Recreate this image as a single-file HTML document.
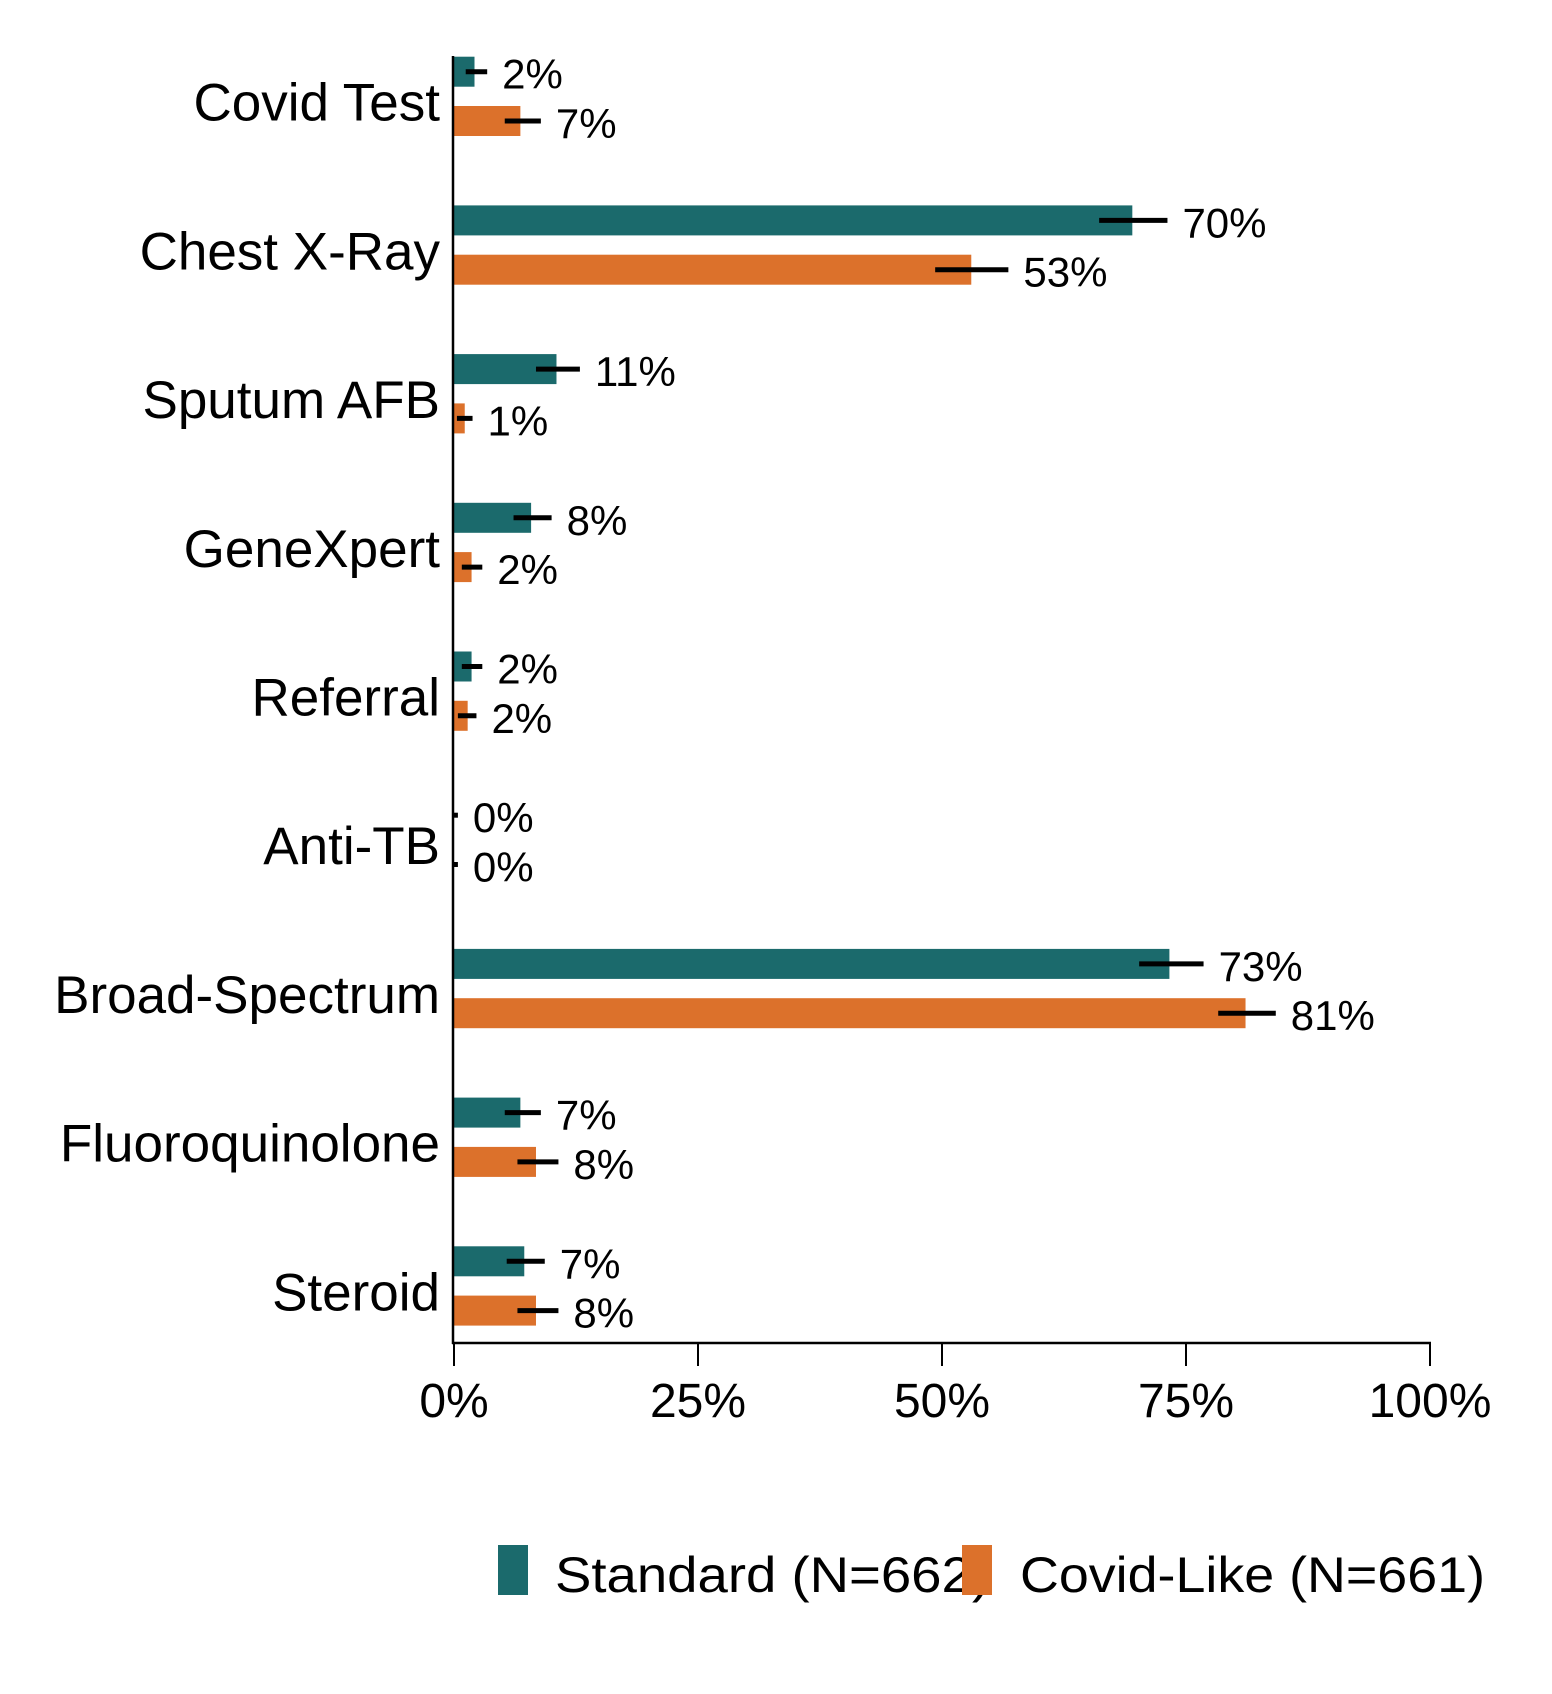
<!DOCTYPE html>
<html><head><meta charset="utf-8"><style>
html,body{margin:0;padding:0;background:#fff;}
svg{display:block;font-family:"Liberation Sans",Arial,sans-serif;}
</style></head><body>
<svg id="chart" width="1552" height="1694" viewBox="0 0 1552 1694"></svg>
<script>
const categories=["Covid Test","Chest X-Ray","Sputum AFB","GeneXpert","Referral","Anti-TB","Broad-Spectrum","Fluoroquinolone","Steroid"];
const standardValues=[2.1,69.5,10.5,7.9,1.8,0,73.3,6.8,7.2];
const standardLow=[1.2,66.1,8.4,6.1,0.8,0,70.2,5.2,5.4];
const standardHigh=[3.4,73.1,12.9,10.0,2.9,0.4,76.8,8.9,9.3];
const standardLabels=["2%","70%","11%","8%","2%","0%","73%","7%","7%"];
const covidValues=[6.8,53,1.1,1.8,1.4,0,81.1,8.4,8.4];
const covidLow=[5.2,49.3,0.3,0.8,0.4,0,78.3,6.5,6.5];
const covidHigh=[8.9,56.8,1.9,2.9,2.3,0.4,84.2,10.7,10.7];
const covidLabels=["7%","53%","1%","2%","2%","0%","81%","8%","8%"];
const ticks=[0,25,50,75,100];
const tickLabels=["0%","25%","50%","75%","100%"];

const NS="http://www.w3.org/2000/svg";
const svg=document.getElementById('chart');
const X0=454,X1=1430;
const x=v=>X0+(X1-X0)*v/100;
const step=148.7, barH=30;
const yTeal=i=>56.7+i*step;
const yOrange=i=>106+i*step;
function mk(tag,attrs,parent){const e=document.createElementNS(NS,tag);for(const k in attrs)e.setAttribute(k,attrs[k]);(parent||svg).appendChild(e);return e;}

function series(vals,lo,hi,labels,yf,color,key){
  vals.forEach((v,i)=>{
    const y=yf(i);
    const r=mk('rect',{x:X0,y:y,width:Math.max(0,x(v)-X0),height:barH,fill:color});
    
    
    const l=mk('line',{x1:x(lo[i]),x2:x(hi[i]),y1:y+barH/2,y2:y+barH/2,stroke:'#000','stroke-width':5});
    
    
    const t=mk('text',{x:x(hi[i])+15,y:y+barH/2+17,'font-size':42,fill:'#000'});
    t.textContent=labels[i];
    
    
  });
}
series(standardValues,standardLow,standardHigh,standardLabels,yTeal,'#1b6a6c','standard');
series(covidValues,covidLow,covidHigh,covidLabels,yOrange,'#dc712b','covid-like');

categories.forEach((c,i)=>{
  const t=mk('text',{x:440,y:yTeal(i)+64,'font-size':53,'text-anchor':'end',fill:'#000'});
  t.textContent=c;
  
  
});

const ya=mk('line',{x1:453,x2:453,y1:56,y2:1344,stroke:'#000','stroke-width':2.5});


const xa=mk('line',{x1:452,x2:X1+1,y1:1343,y2:1343,stroke:'#000','stroke-width':2.5});


ticks.forEach((tv,i)=>{
  const l=mk('line',{x1:x(tv),x2:x(tv),y1:1343,y2:1366,stroke:'#000','stroke-width':2});
  
  
  const t=mk('text',{x:x(tv),y:1417,'font-size':48,'text-anchor':'middle',fill:'#000'});
  t.textContent=tickLabels[i];
  
  
});

const g=mk('g',{});


const s1=mk('rect',{x:498,y:1545,width:30,height:50,fill:'#1b6a6c'},g);


const t1=mk('text',{x:555,y:1592,'font-size':50,textLength:435,lengthAdjust:'spacingAndGlyphs',fill:'#000'},g);
t1.textContent='Standard (N=662)';


const s2=mk('rect',{x:962,y:1545,width:30,height:50,fill:'#dc712b'},g);


const t2=mk('text',{x:1020,y:1592,'font-size':50,textLength:465,lengthAdjust:'spacingAndGlyphs',fill:'#000'},g);
t2.textContent='Covid-Like (N=661)';


</script>
</body></html>
